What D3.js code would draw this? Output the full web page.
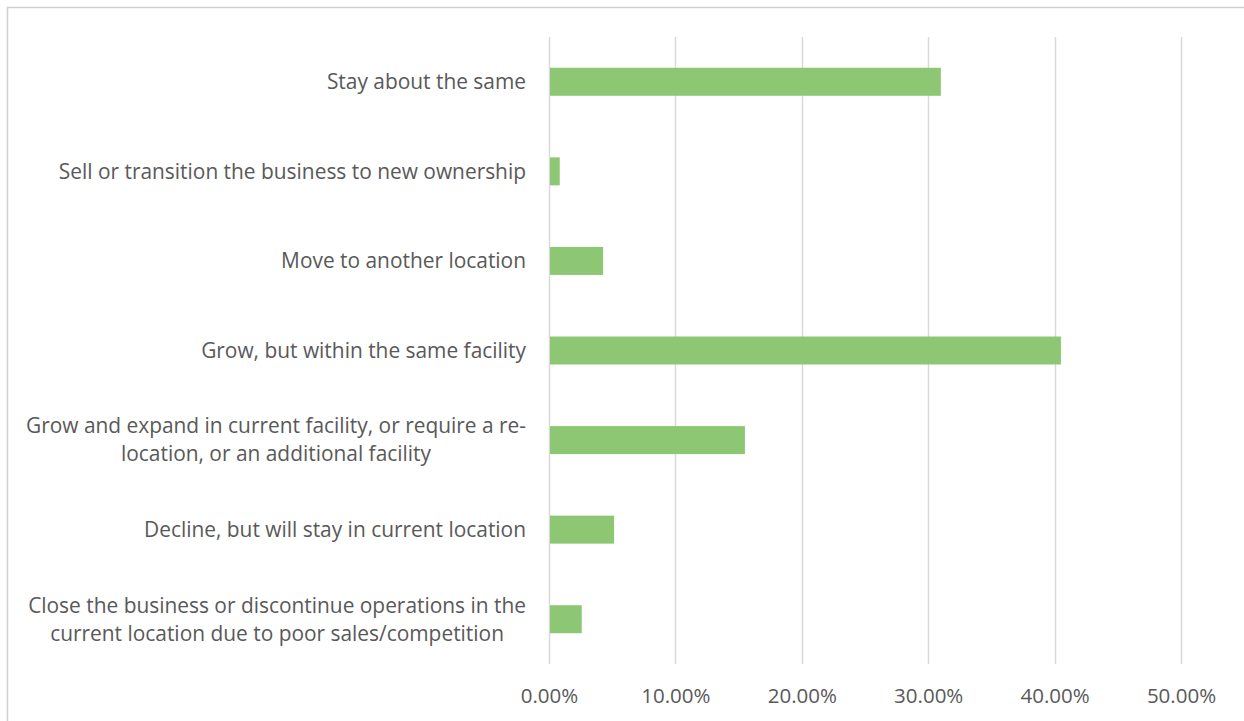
<!DOCTYPE html>
<meta charset="utf-8">
<html>
<script src="https://d3js.org/d3.v7.min.js"></script>
<style>
  body { margin: 0; background: #fff; }
</style>
<body>
<div id="chart"></div>
<script>

// categories, top to bottom (each entry is the lines of its label)
var categories = [
  ["Stay about the same"],
  ["Sell or transition the business to new ownership"],
  ["Move to another location"],
  ["Grow, but within the same facility"],
  ["Grow and expand in current facility, or require a re-", "location, or an additional facility"],
  ["Decline, but will stay in current location"],
  ["Close the business or discontinue operations in the", "current location due to poor sales/competition"]
];
var values = [0.310, 0.0085, 0.0428, 0.405, 0.155, 0.0515, 0.0259];
var ticks = [0, 0.1, 0.2, 0.3, 0.4, 0.5];

var width = 1244,
    height = 721;
var margin = {top: 37, right: 63, bottom: 57, left: 549};

var svg = d3.select("#chart")
  .append("svg")
    .attr("width", width)
    .attr("height", height);

// outer frame
svg.append("rect")
  .attr("x", 7.5).attr("y", 7.5)
  .attr("width", width).attr("height", height)
  .attr("fill", "none")
  .attr("stroke", "#d0d0d0")
  .attr("stroke-width", 1.5);

var x = d3.scaleLinear()
  .domain([0, 0.5])
  .range([margin.left, width - margin.right]);

var y = d3.scaleBand()
  .domain(d3.range(categories.length))
  .range([margin.top, height - margin.bottom])
  .paddingInner(0.6875)
  .paddingOuter(0.34375);

// gridlines
svg.selectAll("line.grid")
  .data(ticks)
  .enter().append("line")
    .attr("class", "grid")
    .attr("x1", function(d) { return Math.round(x(d)) + 0.5; })
    .attr("x2", function(d) { return Math.round(x(d)) + 0.5; })
    .attr("y1", margin.top)
    .attr("y2", height - margin.bottom)
    .attr("stroke", "#d9d9d9")
    .attr("stroke-width", 1.5);

// bars
svg.selectAll("rect.bar")
  .data(values)
  .enter().append("rect")
    .attr("class", "bar")
    .attr("x", x(0) + 1)
    .attr("y", function(d, i) { return y(i); })
    .attr("width", function(d) { return x(d) - x(0) - 1; })
    .attr("height", y.bandwidth())
    .attr("fill", "#8dc774");

// x axis labels
var xAxis = d3.axisBottom(x)
  .tickValues(ticks)
  .tickSize(0)
  .tickPadding(0)
  .tickFormat(d3.format(".2%"));

var gx = svg.append("g")
  .attr("transform", "translate(0,703)")
  .call(xAxis);
gx.select(".domain").remove();
gx.selectAll("text")
  .attr("dy", null)
  .attr("y", 0)
  .style("font-family", "Open Sans")
  .style("font-size", "20.5px")
  .attr("fill", "#595959");

// category labels, centered lines in a block right-aligned to the axis
var labelRight = 526;
var lineH = 28;
categories.forEach(function(lines, i) {
  var cy = y(i) + y.bandwidth() / 2;
  var g = svg.append("text")
    .attr("text-anchor", "middle")
    .style("font-family", "Open Sans")
    .style("font-size", "20.9px")
    .attr("fill", "#595959");
  lines.forEach(function(l, j) {
    g.append("tspan")
      .attr("x", 0)
      .attr("y", cy + (j - (lines.length - 1) / 2) * lineH)
      .attr("dy", "0.35em")
      .text(l);
  });
  var w = d3.max(g.selectAll("tspan").nodes(), function(n) { return n.getComputedTextLength(); });
  g.selectAll("tspan").attr("x", labelRight - w / 2);
});

</script>
</body>
</html>
